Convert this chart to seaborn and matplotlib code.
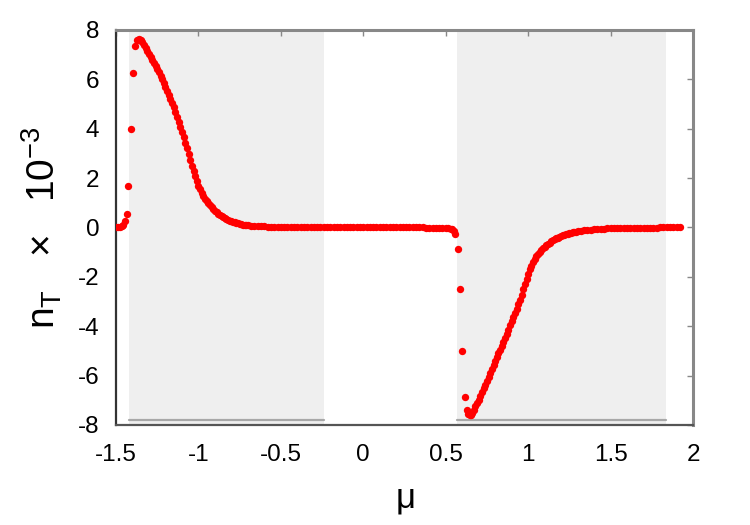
import numpy as np
import pandas as pd
import matplotlib
matplotlib.use('Agg')
import matplotlib.pyplot as plt
import seaborn as sns

# pontos (mu, n_T x 10^-3)
mu_esq = [-1.500, -1.490, -1.478, -1.466, -1.455, -1.446, -1.436, -1.425, -1.410, -1.394,
          -1.382, -1.370, -1.360, -1.350, -1.340, -1.330, -1.320, -1.310, -1.300, -1.290,
          -1.280, -1.270, -1.260, -1.250, -1.240, -1.230, -1.220, -1.210, -1.200, -1.190,
          -1.180, -1.170, -1.160, -1.150, -1.140, -1.130, -1.120, -1.110, -1.100, -1.090,
          -1.080, -1.070, -1.060, -1.050, -1.040, -1.030, -1.020, -1.010, -1.000, -0.990,
          -0.980, -0.970, -0.960, -0.950, -0.940, -0.930, -0.920, -0.910, -0.900, -0.890,
          -0.880, -0.870, -0.860, -0.850, -0.840, -0.830, -0.820, -0.810, -0.800, -0.790,
          -0.780, -0.770, -0.760, -0.750, -0.740, -0.730, -0.720, -0.710, -0.700, -0.680,
          -0.660, -0.640, -0.620, -0.600, -0.580, -0.560, -0.540, -0.520, -0.500]
n_esq = [0.00, 0.01, 0.03, 0.06, 0.12, 0.25, 0.55, 1.69, 3.99, 6.24,
         7.35, 7.58, 7.62, 7.58, 7.50, 7.40, 7.28, 7.15, 7.02, 6.90,
         6.78, 6.66, 6.54, 6.41, 6.28, 6.14, 6.00, 5.85, 5.70, 5.54,
         5.38, 5.21, 5.04, 4.86, 4.67, 4.48, 4.28, 4.08, 3.87, 3.65,
         3.43, 3.20, 2.97, 2.74, 2.51, 2.29, 2.08, 1.88, 1.70, 1.54,
         1.40, 1.28, 1.17, 1.07, 0.98, 0.90, 0.82, 0.75, 0.68, 0.62,
         0.56, 0.51, 0.46, 0.42, 0.38, 0.34, 0.31, 0.28, 0.25, 0.23,
         0.21, 0.19, 0.17, 0.15, 0.14, 0.12, 0.11, 0.10, 0.09, 0.08,
         0.07, 0.06, 0.05, 0.04, 0.03, 0.03, 0.02, 0.02, 0.01]

mu_meio = [-0.48, -0.46, -0.44, -0.42, -0.40, -0.38, -0.36, -0.34, -0.32, -0.30,
           -0.28, -0.26, -0.24, -0.22, -0.20, -0.18, -0.16, -0.14, -0.12, -0.10,
           -0.08, -0.06, -0.04, -0.02, 0.00, 0.02, 0.04, 0.06, 0.08, 0.10,
           0.12, 0.14, 0.16, 0.18, 0.20, 0.22, 0.24, 0.26, 0.28, 0.30,
           0.32, 0.34, 0.36, 0.38, 0.40, 0.42, 0.44, 0.46, 0.48, 0.50]
n_meio = [0.01, 0.01, 0.01, 0.01, 0.00, 0.00, 0.00, 0.00, 0.00, 0.00,
          0.00, 0.00, 0.00, 0.00, 0.00, 0.00, 0.00, 0.00, 0.00, 0.00,
          0.00, 0.00, 0.00, 0.00, 0.00, 0.00, 0.00, 0.00, 0.00, 0.00,
          0.00, 0.00, 0.00, 0.00, 0.00, 0.00, 0.00, 0.00, 0.00, 0.00,
          0.00, 0.00, 0.00, -0.01, -0.01, -0.01, -0.01, -0.01, -0.01, -0.02]

mu_dir = [0.515, 0.531, 0.540, 0.550, 0.558, 0.574, 0.586, 0.598, 0.616, 0.630,
          0.638, 0.645, 0.652, 0.660, 0.670, 0.680, 0.690, 0.700, 0.710, 0.720,
          0.730, 0.740, 0.750, 0.760, 0.770, 0.780, 0.790, 0.800, 0.810, 0.820,
          0.830, 0.840, 0.850, 0.860, 0.870, 0.880, 0.890, 0.900, 0.910, 0.920,
          0.930, 0.940, 0.950, 0.960, 0.970, 0.980, 0.990, 1.000, 1.010, 1.020,
          1.030, 1.040, 1.050, 1.060, 1.070, 1.080, 1.090, 1.100, 1.110, 1.120,
          1.130, 1.140, 1.150, 1.160, 1.170, 1.180, 1.190, 1.200, 1.210, 1.220,
          1.230, 1.240, 1.250, 1.260, 1.270, 1.280, 1.290, 1.300, 1.320, 1.340,
          1.360, 1.380, 1.400, 1.420, 1.440, 1.460, 1.480, 1.500, 1.520, 1.540,
          1.560, 1.580, 1.600, 1.620, 1.640, 1.660, 1.680, 1.700, 1.720, 1.740,
          1.760, 1.780, 1.800, 1.820, 1.840, 1.860, 1.880, 1.900, 1.920]
n_dir = [-0.03, -0.06, -0.08, -0.14, -0.25, -0.88, -2.50, -4.99, -6.85, -7.40,
         -7.55, -7.60, -7.58, -7.50, -7.38, -7.25, -7.11, -6.97, -6.82, -6.67,
         -6.52, -6.37, -6.21, -6.06, -5.90, -5.74, -5.58, -5.42, -5.26, -5.10,
         -4.95, -4.80, -4.64, -4.48, -4.31, -4.14, -3.97, -3.80, -3.63, -3.46,
         -3.29, -3.11, -2.92, -2.72, -2.51, -2.30, -2.08, -1.88, -1.70, -1.54,
         -1.40, -1.28, -1.17, -1.07, -0.99, -0.91, -0.84, -0.78, -0.72, -0.66,
         -0.61, -0.56, -0.52, -0.48, -0.44, -0.41, -0.38, -0.35, -0.32, -0.30,
         -0.28, -0.26, -0.24, -0.22, -0.20, -0.19, -0.18, -0.16, -0.14, -0.12,
         -0.11, -0.09, -0.08, -0.07, -0.06, -0.05, -0.04, -0.04, -0.03, -0.03,
         -0.03, -0.02, -0.02, -0.02, -0.02, -0.01, -0.01, -0.01, -0.01, -0.01,
         -0.01, -0.01, 0.00, 0.00, 0.00, 0.00, 0.00, 0.00, 0.00]

faixas = [(-1.424, -0.236), (0.57, 1.836)]
xticks = [-1.5, -1, -0.5, 0, 0.5, 1, 1.5, 2]
xtick_labels = ['-1.5', '-1', '-0.5', '0', '0.5', '1', '1.5', '2']
yticks = [-8, -6, -4, -2, 0, 2, 4, 6, 8]
ytick_labels = ['-8', '-6', '-4', '-2', '0', '2', '4', '6', '8']

df = pd.DataFrame({'mu': mu_esq + mu_meio + mu_dir,
                   'n': n_esq + n_meio + n_dir})

sns.set_style('white')
plt.rcParams['font.family'] = ['Liberation Sans', 'DejaVu Sans']
plt.rcParams['mathtext.default'] = 'regular'
plt.rcParams['axes.unicode_minus'] = False

fig = plt.figure(figsize=(7.5, 5.25), dpi=100)
ax = fig.add_axes([0.1547, 0.1905, 0.7693, 0.7524])

for a, b in faixas:
    ax.axvspan(a, b, color='#efefef', lw=0, zorder=0)
    ax.plot([a, b], [-7.8, -7.8], color='#a8a8a8', lw=1.6, zorder=1)

sns.scatterplot(data=df, x='mu', y='n', color='#ff0000', s=28, linewidth=0, ax=ax, zorder=3)

ax.set_xlim(-1.5, 2)
ax.set_ylim(-8, 8)
ax.set_xticks(xticks)
ax.set_xticklabels(xtick_labels)
ax.set_yticks(yticks)
ax.set_yticklabels(ytick_labels)
ax.tick_params(direction='in', length=4, width=1, color='#888888', labelsize=17.5,
               labelcolor='black', top=True, right=True)
ax.tick_params(axis='x', pad=14)
ax.tick_params(axis='y', pad=12)

ax.spines['left'].set_color('#333333')
ax.spines['left'].set_linewidth(1.6)
ax.spines['bottom'].set_color('#555555')
ax.spines['bottom'].set_linewidth(1.6)
ax.spines['top'].set_color('#888888')
ax.spines['top'].set_linewidth(2.2)
ax.spines['right'].set_color('#888888')
ax.spines['right'].set_linewidth(2.2)

ax.set_xlabel(r'$\mu$', fontsize=25, labelpad=12, color='black')
ax.set_ylabel(r'$n_T$   ×   10$^{-3}$', fontsize=28, labelpad=10, color='black')

plt.savefig('out.png', dpi=100, facecolor='white')
plt.close()
